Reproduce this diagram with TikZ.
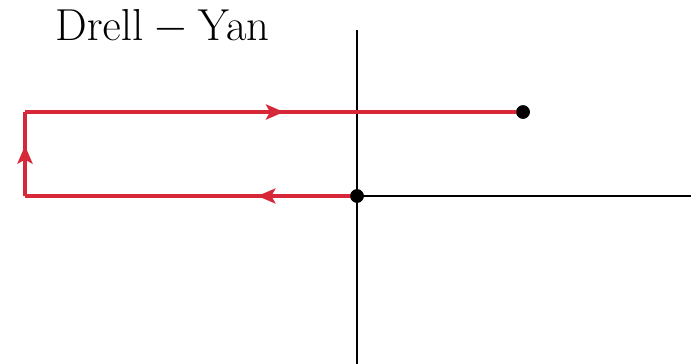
\documentclass[tikz,border=0pt]{standalone}
\usepackage{graphicx}
\usetikzlibrary{arrows.meta,decorations.markings}
\definecolor{wred}{RGB}{214,40,57}
\tikzset{
  axis/.style={black,line width=1.6pt},
  wline/.style={wred,line width=3.6pt},
  midarrow/.style={decoration={markings,mark=at position #1 with {\arrow{Stealth[length=18pt,width=15pt,inset=4pt]}}},postaction={decorate}},
  dotnode/.style={circle,fill=black,inner sep=0pt,minimum size=13.5pt},
}
\begin{document}
\begin{tikzpicture}[x=1pt,y=-1pt]
\useasboundingbox (0,0) rectangle (691,364);
\coordinate (vtop) at (357,30);
\coordinate (vbot) at (357,364);
\coordinate (hright) at (691,196);
\coordinate (bl) at (25,196);
\coordinate (tl) at (25,112);
\node[dotnode] (o) at (357,196) {};
\node[dotnode] (e) at (523,112) {};
\draw[axis] (vtop) -- (vbot);
\draw[axis] (o.center) -- (hright);
\draw[wline,midarrow=0.3] (o.center) -- (bl);
\draw[wline,midarrow=0.6] (bl) -- (tl);
\draw[wline,midarrow=0.52] (tl) -- (e.center);
\node[dotnode] at (o) {};
\node[dotnode] at (e) {};
\node[anchor=base west,inner sep=0pt,font=\Huge] (t) at (55,40) {\scalebox{1.8}{$\mathrm{Drell-Yan}$}};
\end{tikzpicture}
\end{document}
